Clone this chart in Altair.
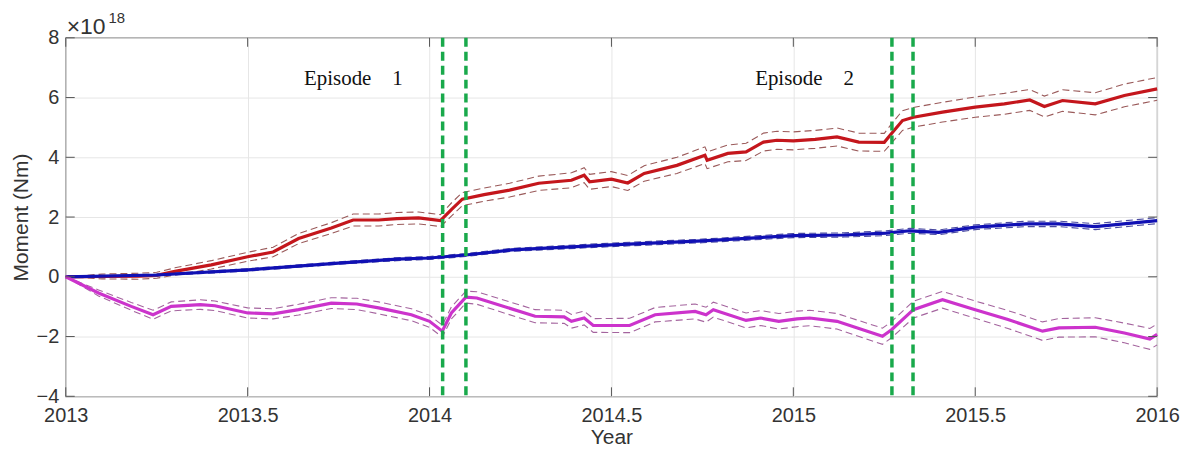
import altair as alt
import pandas as pd

# ---------------- data (units: 1e18 Nm) ----------------
red_x = [2013.0, 2013.1, 2013.2, 2013.25, 2013.3, 2013.4, 2013.5, 2013.57, 2013.64, 2013.73,
         2013.79, 2013.86, 2013.91, 2013.97, 2014.03, 2014.06, 2014.09, 2014.15, 2014.22, 2014.3,
         2014.39, 2014.425, 2014.44, 2014.5, 2014.545, 2014.59, 2014.68, 2014.757, 2014.763, 2014.82,
         2014.87, 2014.918, 2014.955, 2015.0, 2015.06, 2015.12, 2015.18, 2015.25, 2015.27, 2015.30,
         2015.33, 2015.41, 2015.50, 2015.58, 2015.65, 2015.69, 2015.74, 2015.83, 2015.91, 2016.0]
red_y = [0.0, 0.01, 0.02, 0.05, 0.18, 0.40, 0.67, 0.83, 1.28, 1.63,
         1.90, 1.90, 1.95, 1.97, 1.88, 2.25, 2.60, 2.75, 2.90, 3.13,
         3.23, 3.40, 3.18, 3.27, 3.14, 3.46, 3.73, 4.07, 3.90, 4.13,
         4.18, 4.51, 4.57, 4.55, 4.60, 4.68, 4.51, 4.50, 4.80, 5.23,
         5.34, 5.51, 5.68, 5.79, 5.92, 5.70, 5.90, 5.79, 6.07, 6.29]
red_err = [0.0, 0.08, 0.1, 0.1, 0.12, 0.14, 0.15, 0.16, 0.17, 0.18,
           0.2, 0.2, 0.2, 0.2, 0.2, 0.22, 0.22, 0.22, 0.23, 0.24,
           0.25, 0.25, 0.25, 0.25, 0.25, 0.26, 0.27, 0.28, 0.28, 0.28,
           0.29, 0.3, 0.3, 0.3, 0.3, 0.3, 0.3, 0.3, 0.32, 0.33,
           0.33, 0.33, 0.34, 0.35, 0.35, 0.35, 0.36, 0.37, 0.38, 0.38]

blue_x = [2013.0, 2013.25, 2013.5, 2013.75, 2013.91, 2014.0, 2014.1, 2014.225, 2014.5, 2014.75,
          2015.0, 2015.14, 2015.255, 2015.32, 2015.40, 2015.50, 2015.64, 2015.73, 2015.83, 2016.0]
blue_y = [0.0, 0.06, 0.23, 0.46, 0.59, 0.63, 0.73, 0.90, 1.07, 1.20,
          1.38, 1.40, 1.46, 1.54, 1.49, 1.66, 1.77, 1.77, 1.68, 1.88]
blue_err = [0.0, 0.03, 0.04, 0.04, 0.05, 0.05, 0.05, 0.05, 0.06, 0.06,
            0.07, 0.07, 0.08, 0.08, 0.08, 0.08, 0.09, 0.09, 0.1, 0.1]

mag_x = [2013.0, 2013.09, 2013.18, 2013.24, 2013.29, 2013.37, 2013.41, 2013.5, 2013.57, 2013.64,
         2013.73, 2013.80, 2013.86, 2013.95, 2014.0, 2014.035, 2014.06, 2014.10, 2014.13, 2014.29,
         2014.37, 2014.39, 2014.425, 2014.45, 2014.55, 2014.62, 2014.73, 2014.76, 2014.78, 2014.87,
         2014.91, 2014.96, 2015.01, 2015.045, 2015.12, 2015.245, 2015.27, 2015.33, 2015.41, 2015.50,
         2015.59, 2015.685, 2015.73, 2015.83, 2015.91, 2015.98, 2016.0]
mag_y = [0.0, -0.54, -0.99, -1.27, -0.99, -0.93, -0.97, -1.21, -1.24, -1.10,
         -0.88, -0.91, -1.04, -1.27, -1.49, -1.82, -1.21, -0.68, -0.71, -1.32,
         -1.34, -1.49, -1.38, -1.63, -1.63, -1.27, -1.16, -1.27, -1.10, -1.46,
         -1.38, -1.49, -1.41, -1.38, -1.49, -1.99, -1.77, -1.10, -0.77, -1.10,
         -1.43, -1.82, -1.71, -1.69, -1.88, -2.08, -1.93]
mag_err = [0.0, 0.1, 0.13, 0.15, 0.15, 0.16, 0.16, 0.17, 0.17, 0.18,
           0.18, 0.19, 0.2, 0.2, 0.2, 0.2, 0.2, 0.2, 0.21, 0.22,
           0.22, 0.23, 0.23, 0.23, 0.24, 0.24, 0.25, 0.25, 0.25, 0.25,
           0.25, 0.26, 0.26, 0.26, 0.26, 0.27, 0.27, 0.28, 0.28, 0.29,
           0.3, 0.31, 0.31, 0.32, 0.33, 0.35, 0.35]

episode_lines = [2014.036, 2014.10, 2015.271, 2015.329]
episode_labels = ["Episode\u2002\u20021", "Episode\u2002\u20022"]
episode_label_x = [2013.655, 2014.895]
episode_label_y = [6.62, 6.62]

x_ticks = [2013, 2013.5, 2014, 2014.5, 2015, 2015.5, 2016]
y_ticks = [-4, -2, 0, 2, 4, 6, 8]

line_colors = {"red": "#c4161c", "blue": "#1010b4", "magenta": "#cc33cc"}
band_colors = {"red": "#9a5a5a", "blue": "#4a4aa0", "magenta": "#a4649e"}

W, H = 1096, 360
FONT = "Liberation Sans"

xscale = alt.Scale(domain=[2013, 2016], nice=False, zero=False)
yscale = alt.Scale(domain=[-4, 8], nice=False, zero=False)

x_axis = alt.Axis(values=x_ticks, format="~g", title="Year", grid=True, gridColor="#e6e6e6",
                  gridWidth=1, ticks=False, domain=False, labelFontSize=20, labelFont=FONT,
                  labelColor="#333333", labelPadding=9, titleFontSize=21, titleFont=FONT,
                  titleFontWeight="normal", titleColor="#333333", titlePadding=1,
                  labelFlush=False)
y_axis = alt.Axis(values=y_ticks, format="d", title="Moment (Nm)", grid=True, gridColor="#e6e6e6",
                  gridWidth=1, ticks=False, domain=False, labelFontSize=20, labelFont=FONT,
                  labelColor="#333333", labelPadding=7, titleFontSize=21, titleFont=FONT,
                  titleFontWeight="normal", titleColor="#333333", titlePadding=5,
                  labelFlush=False)

# axes carrier (invisible)
axes_df = pd.DataFrame({"year": [2013, 2016], "v": [-4, 8]})
axes = alt.Chart(axes_df).mark_point(opacity=0).encode(
    x=alt.X("year:Q", scale=xscale, axis=x_axis),
    y=alt.Y("v:Q", scale=yscale, axis=y_axis))

layers = [axes]
for name, xs, ys, es in [("red", red_x, red_y, red_err),
                         ("blue", blue_x, blue_y, blue_err),
                         ("magenta", mag_x, mag_y, mag_err)]:
    d = pd.DataFrame({"order": list(range(len(xs))), "year": xs, "m": ys,
                      "lo": [y - e for y, e in zip(ys, es)],
                      "hi": [y + e for y, e in zip(ys, es)]})
    c = alt.Chart(d)
    for col in ["hi", "lo"]:
        layers.append(c.mark_line(strokeWidth=1.1, strokeDash=[7, 4], color=band_colors[name]).encode(
            x=alt.X("year:Q", scale=xscale), y=alt.Y(f"{col}:Q", scale=yscale), order="order:Q"))
    layers.append(c.mark_line(strokeWidth=3.2, color=line_colors[name]).encode(
        x=alt.X("year:Q", scale=xscale), y=alt.Y("m:Q", scale=yscale), order="order:Q"))

ep_df = pd.DataFrame({"year": episode_lines, "top": [8] * len(episode_lines),
                      "bottom": [-4] * len(episode_lines)})
green = alt.Chart(ep_df).mark_rule(color="#19a94b", strokeWidth=3.5, strokeDash=[9, 5]).encode(
    x=alt.X("year:Q", scale=xscale), y=alt.Y("top:Q", scale=yscale), y2="bottom:Q")

lab_df = pd.DataFrame({"year": episode_label_x, "v": episode_label_y, "t": episode_labels})
ep_text = alt.Chart(lab_df).mark_text(font="Liberation Serif", fontSize=21, align="left",
                                      baseline="middle", color="#111111").encode(
    x=alt.X("year:Q", scale=xscale), y=alt.Y("v:Q", scale=yscale), text="t:N")

# inward ticks, MATLAB style (bottom/top and left/right)
xt_df = pd.DataFrame({"year": x_ticks})
yt_df = pd.DataFrame({"v": y_ticks})
TICK = "#555555"
xt_bottom = alt.Chart(xt_df).mark_rule(color=TICK, strokeWidth=1).encode(
    x=alt.X("year:Q", scale=xscale), y=alt.value(H), y2=alt.value(H - 9))
xt_top = alt.Chart(xt_df).mark_rule(color=TICK, strokeWidth=1).encode(
    x=alt.X("year:Q", scale=xscale), y=alt.value(0), y2=alt.value(9))
yt_left = alt.Chart(yt_df).mark_rule(color=TICK, strokeWidth=1).encode(
    y=alt.Y("v:Q", scale=yscale), x=alt.value(0), x2=alt.value(9))
yt_right = alt.Chart(yt_df).mark_rule(color=TICK, strokeWidth=1).encode(
    y=alt.Y("v:Q", scale=yscale), x=alt.value(W), x2=alt.value(W - 9))

exp_df = pd.DataFrame({"t": ["\u00d710"], "s": ["18"]})
exp_main = alt.Chart(exp_df).mark_text(font=FONT, fontSize=23, align="left", baseline="alphabetic",
                                       color="#333333").encode(
    x=alt.value(1), y=alt.value(-4), text="t:N")
exp_sup = alt.Chart(exp_df).mark_text(font=FONT, fontSize=15, align="left", baseline="alphabetic",
                                      color="#333333").encode(
    x=alt.value(43), y=alt.value(-15), text="s:N")

layers += [green, ep_text, xt_bottom, xt_top, yt_left, yt_right, exp_main, exp_sup]

chart = alt.layer(*layers).properties(
    width=W, height=H,
    autosize=alt.AutoSizeParams(type="none"),
    padding={"left": 58, "top": 29, "right": 30, "bottom": 50},
    background="white",
).configure_view(stroke="#555555", strokeWidth=1.2)

chart.save("out.html", embed_options={"renderer": "svg", "actions": False})
